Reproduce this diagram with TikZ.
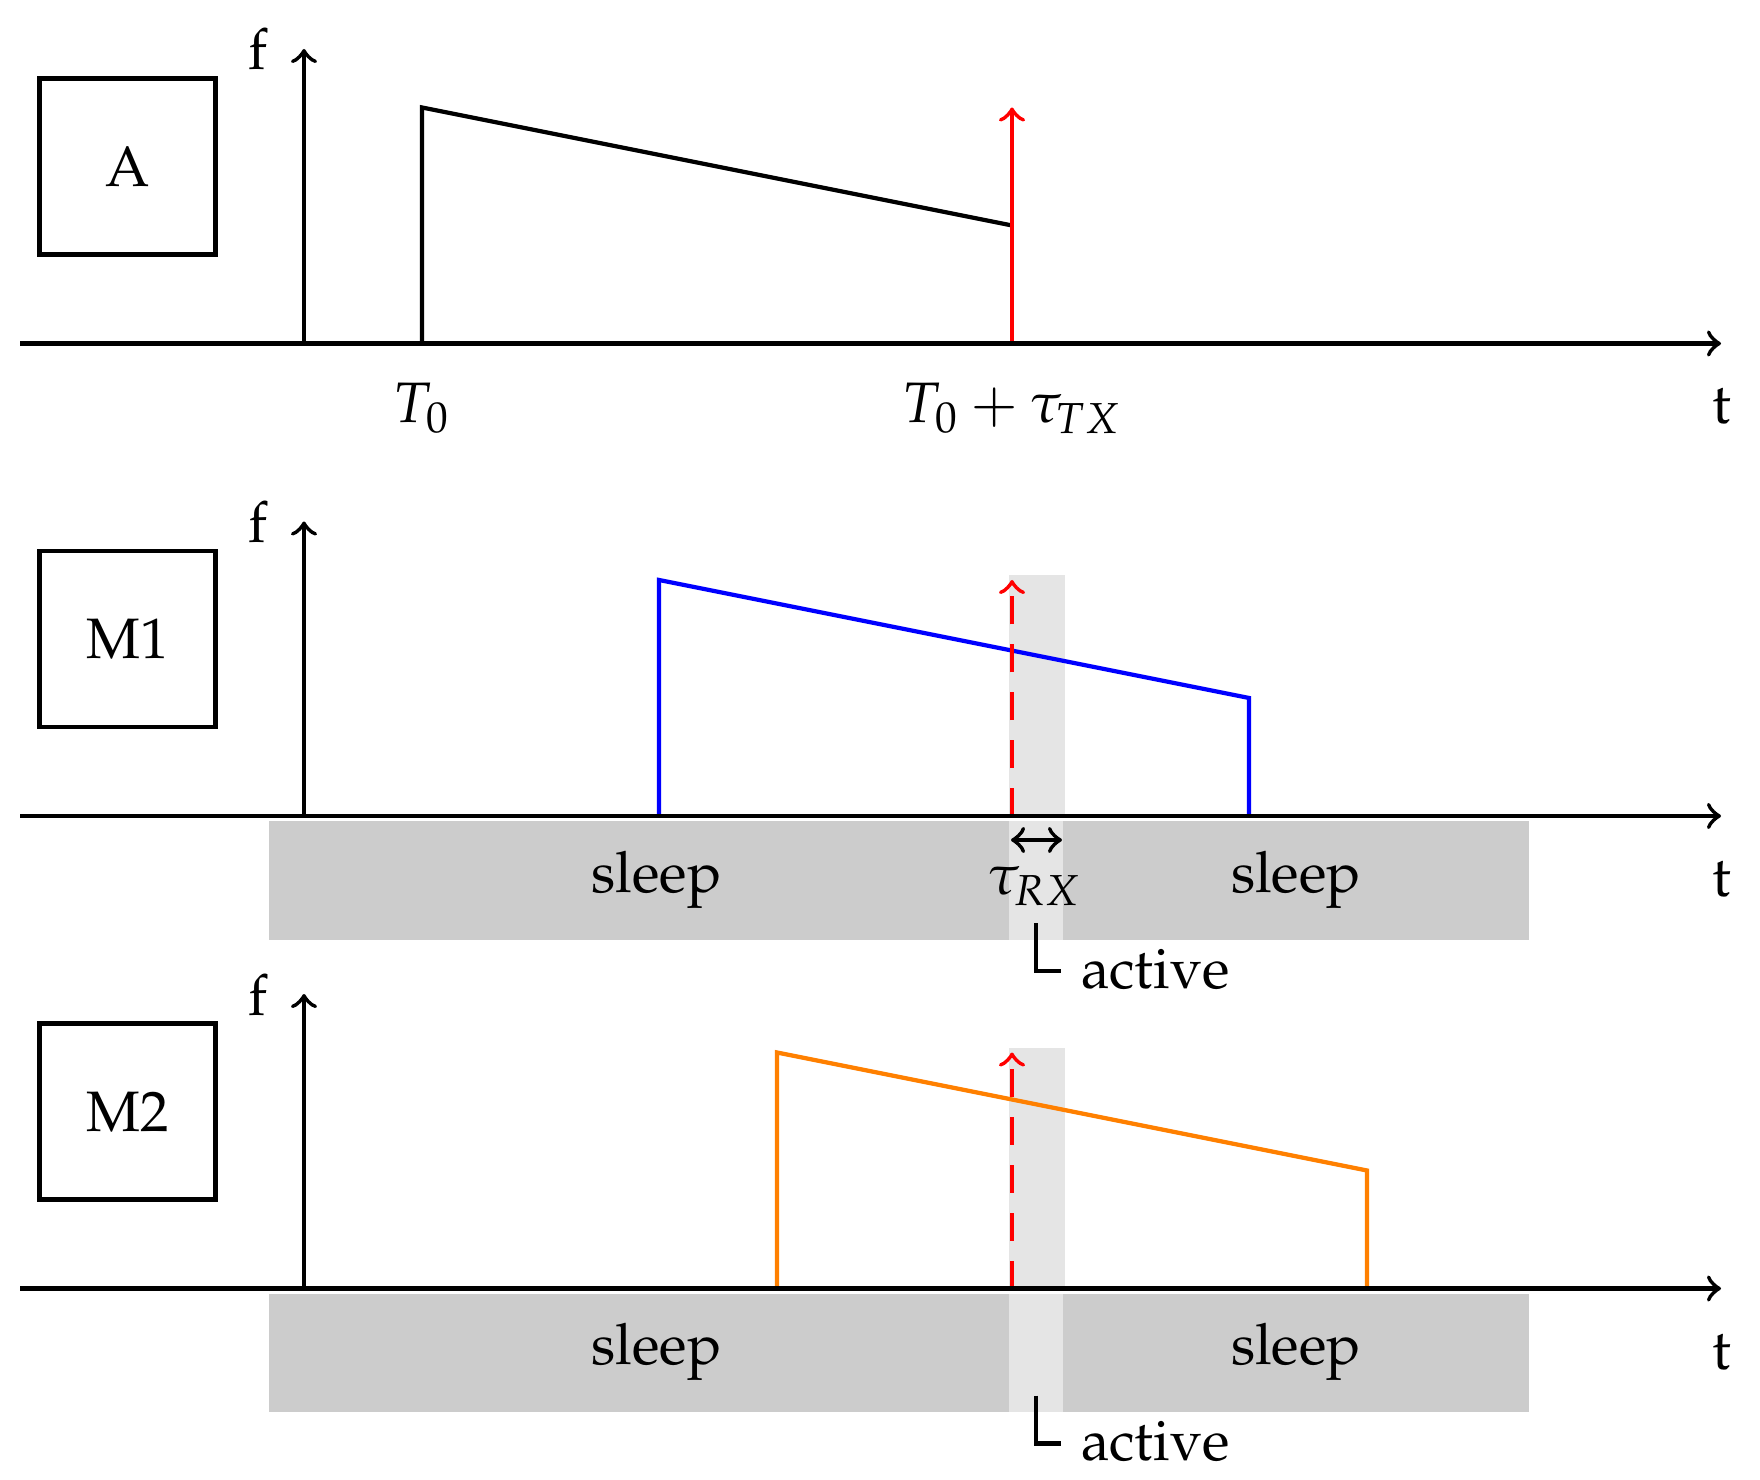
\documentclass[tikz,border=0pt]{standalone}
\usepackage[T1]{fontenc}
\usepackage{mathpazo}
\begin{document}
\begin{tikzpicture}[x=0.1754pt,y=-0.1754pt,
  ln/.style={line width=0.74pt},
  rdash/.style={dash pattern=on 4.9pt off 3.5pt},
  mbox/.style={draw,line width=0.74pt,minimum width=30.85pt,minimum height=30.85pt,inner sep=0pt},
  lbl/.style={anchor=base,inner sep=0pt},
  sleepfill/.style={fill=black!20},
  activefill/.style={fill=black!10}]
\useasboundingbox[fill=white] (0,0) rectangle (1760,1480);

% ---------- common parts of the three panels ----------
\foreach \nm/\yo/\px/\col in {A/0/422/black, M1/472.5/659/blue, M2/945/777/orange}{
  \begin{scope}[shift={(0,\yo)}]
    \ifnum\pdfstrcmp{\nm}{A}=0\else
      % active window band and sleep bar
      \fill[activefill] (1009,102.5) rectangle (1065,343.5);
      \fill[sleepfill] (269,349) rectangle (1009,467);
      \fill[sleepfill] (1063,349) rectangle (1529,467);
      \fill[activefill] (1009,349) rectangle (1063,467);
      \node[lbl] (sleepL\nm) at (656.5,419.5) {sleep};
      \node[lbl] (sleepR\nm) at (1296,419.5) {sleep};
      \coordinate (acTop\nm) at (1036,450.5);
      \coordinate (acEnd\nm) at (1061,498.5);
      \draw[ln] (acTop\nm) |- (acEnd\nm);
      \node[anchor=base west,inner sep=0pt] (act\nm) at (1080,515.5) {active};
    \fi
    \node[mbox] (box\nm) at (127.5,166.5) {\nm};
    \coordinate (o\nm) at (304,343.5);
    \coordinate (f\nm) at (304,49);
    \coordinate (s\nm) at (20,343.5);
    \coordinate (e\nm) at (1721,343.5);
    \node[lbl] (flab\nm) at (258,70) {f};
    \node[lbl] (tlab\nm) at (1722,424) {t};
    % pulse
    \coordinate (p0\nm) at (\px,343.5);
    \coordinate (p1\nm) at (\px,107.5);
    \coordinate (p2\nm) at (\px+590,225.5);
    \coordinate (p3\nm) at (\px+590,343.5);
    % red marker
    \coordinate (r0\nm) at (1012,343.5);
    \coordinate (r1\nm) at (1012,107.5);
    \ifnum\pdfstrcmp{\nm}{A}=0
      \draw[ln,\col] (p0\nm) -- (p1\nm) -- (p2\nm);
      \draw[ln,red,->] (r0\nm) -- (r1\nm);
    \else
      \draw[ln,\col] (p0\nm) -- (p1\nm) -- (p2\nm) -- (p3\nm);
      \draw[ln,red,rdash,->] (r0\nm) -- (r1\nm);
    \fi
    \draw[ln,->] (o\nm) -- (f\nm);
    \draw[ln,->] (s\nm) -- (e\nm);
  \end{scope}
}

% ---------- panel A labels ----------
\node[lbl] (T0) at (422,423) {$T_0$};
\node[lbl] (T0tx) at (1012,423) {$T_0+\tau_{TX}$};

% ---------- panel M1 receive window ----------
\coordinate (rxL) at (1011,367.5+472.5);
\coordinate (rxR) at (1062,367.5+472.5);
\draw[ln,<->] (rxL) -- (rxR);
\node[lbl] (taurx) at (1035,895) {$\tau_{RX}$};
\end{tikzpicture}
\end{document}
